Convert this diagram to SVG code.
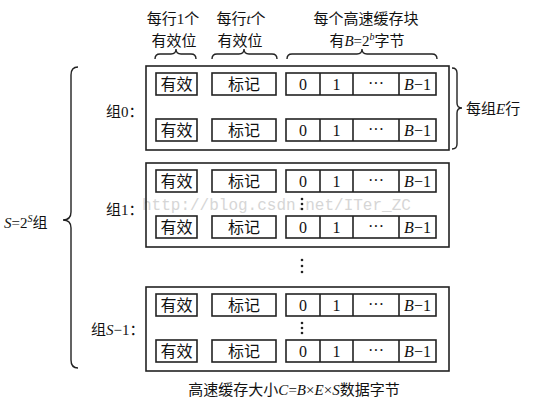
<svg xmlns="http://www.w3.org/2000/svg" width="545" height="401" viewBox="0 0 545 401">
<style>
.bg{fill:#fff}
.grp{fill:none;stroke:#222;stroke-width:1.6}
.cell{fill:#fff;stroke:#222;stroke-width:1.6}
.br{fill:none;stroke:#222;stroke-width:1.4}
.cn{font-family:"Noto Sans CJK SC","Noto Sans",sans-serif;font-size:15px;fill:#111}
.cc{font-family:"Noto Sans CJK SC","Noto Sans",sans-serif;font-size:16px;fill:#111;text-anchor:middle}
.num{font-family:"Liberation Serif","Noto Sans CJK SC",serif;font-size:16px;fill:#111;text-anchor:middle}
.it{font-family:"Liberation Serif",serif;font-style:italic}
.rm{font-family:"Liberation Serif",serif}
.wm{font-family:"Liberation Mono",monospace;font-size:16px;fill:#d6d6d6}
.dot{fill:#222}
.mid{text-anchor:middle}
</style>
<rect class="bg" x="0" y="0" width="545" height="401"/>
<text class="wm" x="142" y="210">http://blog.csdn.net/ITer_ZC</text>

<g id="headers">
<text class="cn mid" x="173" y="24">每行<tspan class="rm">1</tspan>个</text>
<text class="cn mid" x="174" y="46">有效位</text>
<text class="cn mid" x="241" y="24">每行<tspan class="it">t</tspan>个</text>
<text class="cn mid" x="240" y="46">有效位</text>
<text class="cn mid" x="366" y="24">每个高速缓存块</text>
<text class="cn mid" x="367" y="46">有<tspan class="it">B</tspan><tspan class="rm">=2</tspan><tspan class="it" font-size="10" dy="-6">b</tspan><tspan dy="6">字节</tspan></text>
</g>

<g id="braces">
<path class="br" d="M155,59 Q155,54 160,54 L171,54 Q176,54 176,49 Q176,54 181,54 L191,54 Q196,54 196,59"/>
<path class="br" d="M212,59 Q212,54 217,54 L239,54 Q244,54 244,49 Q244,54 249,54 L272,54 Q277,54 277,59"/>
<path class="br" d="M287,59 Q287,54 292,54 L357,54 Q362,54 362,49 Q362,54 367,54 L432,54 Q437,54 437,59"/>
<path class="br" d="M452,68 Q457,68 457,73 L457,103 Q457,108 462,108 Q457,108 457,113 L457,144 Q457,149 452,149"/>
<path class="br" d="M78,67 Q71,67 71,75 L71,212 Q71,220 63,220 Q71,220 71,228 L71,360 Q71,368 78,368"/>
</g>

<g id="labels">
<text class="cn" x="466" y="114">每组<tspan class="it">E</tspan>行</text>
<text class="cn" x="4" y="228"><tspan class="it">S</tspan><tspan class="rm">=2</tspan><tspan class="it" font-size="10" dy="-6">S</tspan><tspan dy="6">组</tspan></text>
<text class="cn" x="106" y="117">组<tspan class="rm">0</tspan>：</text>
<text class="cn" x="106" y="215">组<tspan class="rm">1</tspan>：</text>
<text class="cn" x="91" y="335">组<tspan class="it">S</tspan><tspan class="rm">−1</tspan>：</text>
<text class="cn mid" x="294" y="395" font-size="15.5">高速缓存大小<tspan class="it">C</tspan><tspan class="rm">=</tspan><tspan class="it">B</tspan><tspan class="rm">×</tspan><tspan class="it">E</tspan><tspan class="rm">×</tspan><tspan class="it">S</tspan>数据字节</text>
</g>

<g id="group0">
<rect class="grp" x="146" y="66" width="303" height="84"/>
<g transform="translate(0,73)">
<rect class="cell" x="156" y="0" width="41" height="22"/><text class="cc" x="176.5" y="17">有效</text>
<rect class="cell" x="212" y="0" width="64" height="22"/><text class="cc" x="244" y="17">标记</text>
<rect class="cell" x="286" y="0" width="150" height="22"/>
<path class="grp" d="M320,0V22M353,0V22M399,0V22"/>
<text class="num" x="303" y="17">0</text><text class="num" x="336.5" y="17">1</text><text class="num" x="376" y="16">···</text><text class="num" x="417.5" y="17"><tspan class="it">B</tspan>−1</text>
</g>
<g transform="translate(0,119)">
<rect class="cell" x="156" y="0" width="41" height="22"/><text class="cc" x="176.5" y="17">有效</text>
<rect class="cell" x="212" y="0" width="64" height="22"/><text class="cc" x="244" y="17">标记</text>
<rect class="cell" x="286" y="0" width="150" height="22"/>
<path class="grp" d="M320,0V22M353,0V22M399,0V22"/>
<text class="num" x="303" y="17">0</text><text class="num" x="336.5" y="17">1</text><text class="num" x="376" y="16">···</text><text class="num" x="417.5" y="17"><tspan class="it">B</tspan>−1</text>
</g>
</g>

<g id="group1">
<rect class="grp" x="146" y="163" width="303" height="84"/>
<g transform="translate(0,170)">
<rect class="cell" x="156" y="0" width="41" height="22"/><text class="cc" x="176.5" y="17">有效</text>
<rect class="cell" x="212" y="0" width="64" height="22"/><text class="cc" x="244" y="17">标记</text>
<rect class="cell" x="286" y="0" width="150" height="22"/>
<path class="grp" d="M320,0V22M353,0V22M399,0V22"/>
<text class="num" x="303" y="17">0</text><text class="num" x="336.5" y="17">1</text><text class="num" x="376" y="16">···</text><text class="num" x="417.5" y="17"><tspan class="it">B</tspan>−1</text>
</g>
<circle class="dot" cx="302" cy="199" r="1.3"/><circle class="dot" cx="302" cy="204" r="1.3"/><circle class="dot" cx="302" cy="209" r="1.3"/>
<g transform="translate(0,216)">
<rect class="cell" x="156" y="0" width="41" height="22"/><text class="cc" x="176.5" y="17">有效</text>
<rect class="cell" x="212" y="0" width="64" height="22"/><text class="cc" x="244" y="17">标记</text>
<rect class="cell" x="286" y="0" width="150" height="22"/>
<path class="grp" d="M320,0V22M353,0V22M399,0V22"/>
<text class="num" x="303" y="17">0</text><text class="num" x="336.5" y="17">1</text><text class="num" x="376" y="16">···</text><text class="num" x="417.5" y="17"><tspan class="it">B</tspan>−1</text>
</g>
</g>

<g id="gap-dots">
<circle class="dot" cx="302" cy="260" r="1.3"/><circle class="dot" cx="302" cy="266" r="1.3"/><circle class="dot" cx="302" cy="272" r="1.3"/>
</g>

<g id="groupS-1">
<rect class="grp" x="146" y="287" width="303" height="84"/>
<g transform="translate(0,294)">
<rect class="cell" x="156" y="0" width="41" height="22"/><text class="cc" x="176.5" y="17">有效</text>
<rect class="cell" x="212" y="0" width="64" height="22"/><text class="cc" x="244" y="17">标记</text>
<rect class="cell" x="286" y="0" width="150" height="22"/>
<path class="grp" d="M320,0V22M353,0V22M399,0V22"/>
<text class="num" x="303" y="17">0</text><text class="num" x="336.5" y="17">1</text><text class="num" x="376" y="16">···</text><text class="num" x="417.5" y="17"><tspan class="it">B</tspan>−1</text>
</g>
<circle class="dot" cx="302" cy="323" r="1.3"/><circle class="dot" cx="302" cy="328" r="1.3"/><circle class="dot" cx="302" cy="333" r="1.3"/>
<g transform="translate(0,340)">
<rect class="cell" x="156" y="0" width="41" height="22"/><text class="cc" x="176.5" y="17">有效</text>
<rect class="cell" x="212" y="0" width="64" height="22"/><text class="cc" x="244" y="17">标记</text>
<rect class="cell" x="286" y="0" width="150" height="22"/>
<path class="grp" d="M320,0V22M353,0V22M399,0V22"/>
<text class="num" x="303" y="17">0</text><text class="num" x="336.5" y="17">1</text><text class="num" x="376" y="16">···</text><text class="num" x="417.5" y="17"><tspan class="it">B</tspan>−1</text>
</g>
</g>
</svg>
